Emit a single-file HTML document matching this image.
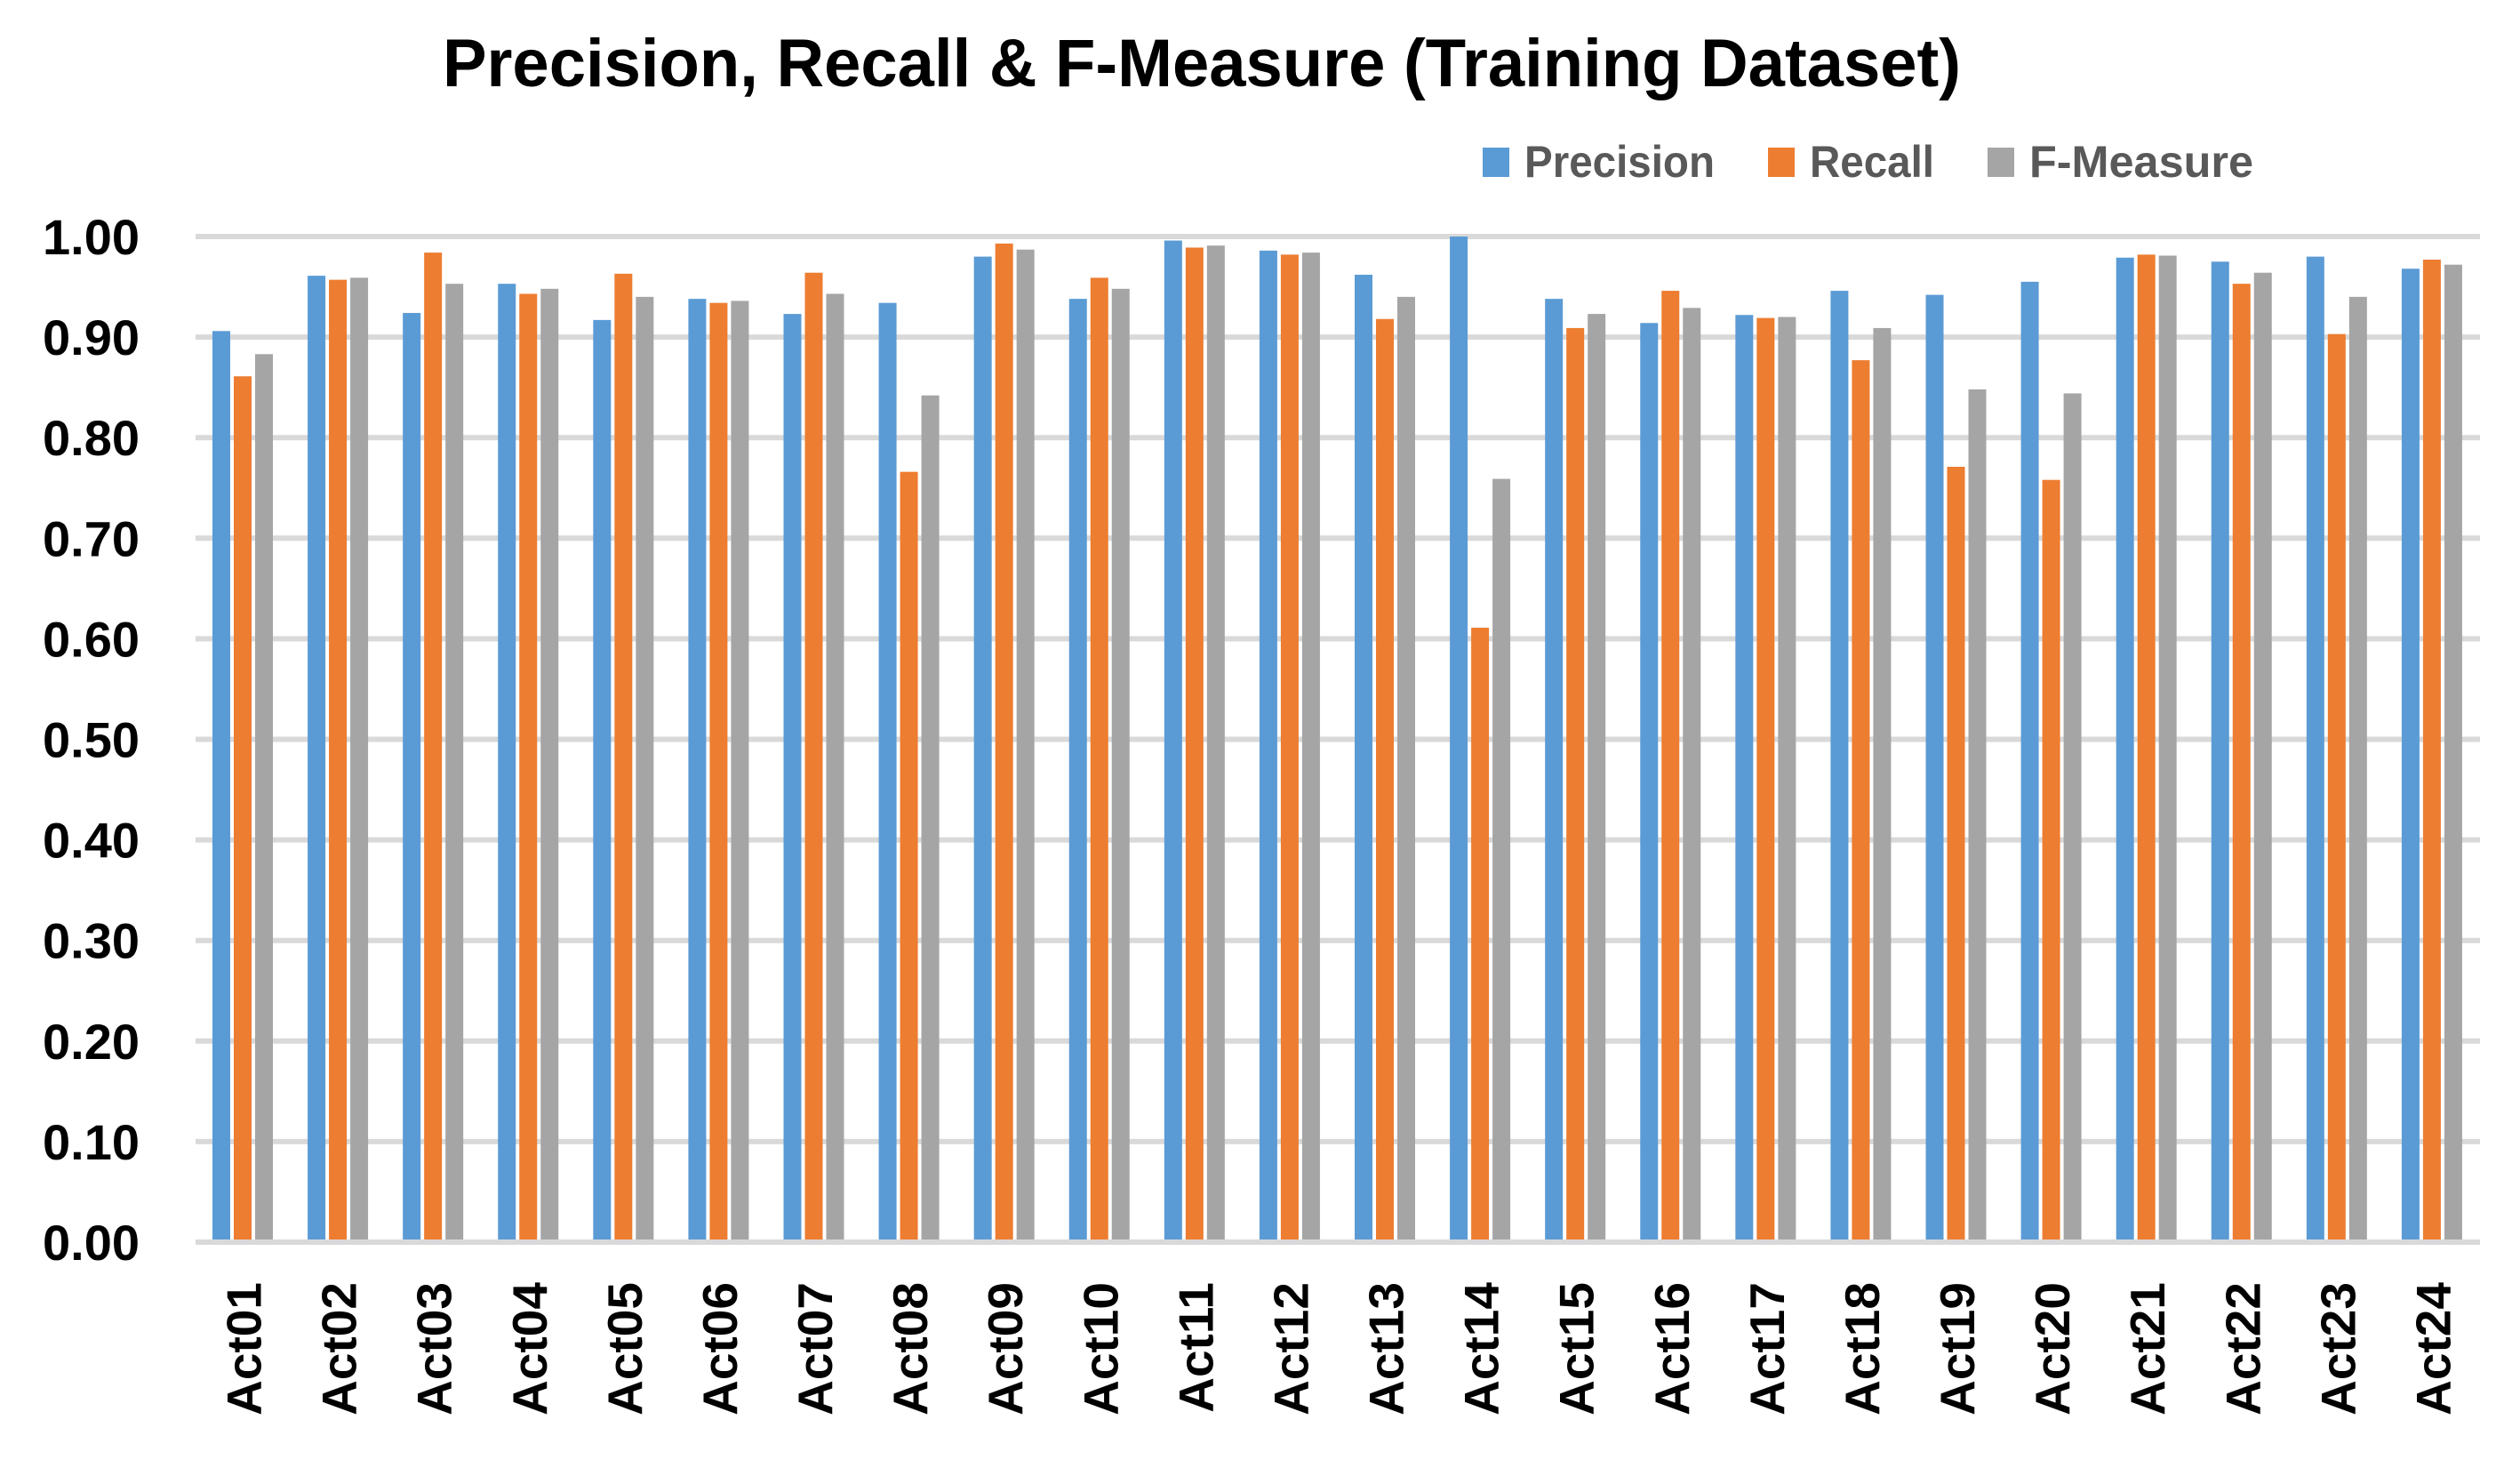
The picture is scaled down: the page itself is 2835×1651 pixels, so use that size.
<!DOCTYPE html>
<html><head><meta charset="utf-8"><style>
html,body{margin:0;padding:0;background:#fff;}
svg{display:block;font-family:"Liberation Sans",sans-serif;}
</style></head><body>
<svg id="chart" width="2835" height="1651" viewBox="0 0 2835 1651" xmlns="http://www.w3.org/2000/svg">
<rect x="0" y="0" width="2835" height="1651" fill="#fff"/>
<text x="1352" y="97" text-anchor="middle" font-size="76" font-weight="bold" fill="#000" textLength="1708" lengthAdjust="spacingAndGlyphs">Precision, Recall &amp; F-Measure (Training Dataset)</text>
<g>
<g><rect x="1668" y="166" width="30" height="33" fill="#5b9bd5"/><text x="1715" y="199" font-size="50" font-weight="bold" fill="#595959" textLength="214" lengthAdjust="spacingAndGlyphs">Precision</text></g>
<g><rect x="1989" y="166" width="30" height="33" fill="#ed7d31"/><text x="2036" y="199" font-size="50" font-weight="bold" fill="#595959" textLength="140" lengthAdjust="spacingAndGlyphs">Recall</text></g>
<g><rect x="2236" y="166" width="30" height="33" fill="#a5a5a5"/><text x="2283" y="199" font-size="50" font-weight="bold" fill="#595959" textLength="252" lengthAdjust="spacingAndGlyphs">F-Measure</text></g>
</g>
<g id="grid"></g>
<g id="yticks"></g>
<g id="bars"></g>
<g id="xlabels"></g>
</svg>
<script>
const categories = ["Act01","Act02","Act03","Act04","Act05","Act06","Act07","Act08","Act09","Act10","Act11","Act12","Act13","Act14","Act15","Act16","Act17","Act18","Act19","Act20","Act21","Act22","Act23","Act24"];
const precision = [0.906,0.961,0.924,0.953,0.917,0.938,0.923,0.934,0.980,0.938,0.996,0.986,0.962,1.000,0.938,0.914,0.922,0.946,0.942,0.955,0.979,0.975,0.980,0.968];
const recall = [0.861,0.957,0.984,0.943,0.963,0.934,0.964,0.766,0.993,0.959,0.989,0.982,0.918,0.611,0.909,0.946,0.919,0.877,0.771,0.758,0.982,0.953,0.903,0.977];
const fmeasure = [0.883,0.959,0.953,0.948,0.940,0.936,0.943,0.842,0.987,0.948,0.991,0.984,0.940,0.759,0.923,0.929,0.920,0.909,0.848,0.844,0.981,0.964,0.940,0.972];
const yTicks = [0,0.1,0.2,0.3,0.4,0.5,0.6,0.7,0.8,0.9,1.0];
const yTickLabels = ["0.00","0.10","0.20","0.30","0.40","0.50","0.60","0.70","0.80","0.90","1.00"];
const seriesNames = ["precision","recall","f-measure"];
const seriesColors = ["#5b9bd5","#ed7d31","#a5a5a5"];

const NS = "http://www.w3.org/2000/svg";
const plotL = 220, plotR = 2790, y0 = 1397, y1 = 266;
const catW = (plotR - plotL) / categories.length;
const barW = 20, barStep = 24, groupOff = 19;
function yScale(v){ return y0 - (v - 0) / (1 - 0) * (y0 - y1); }
function xCat(i){ return plotL + i * catW; }

const grid = document.getElementById('grid');
const yt = document.getElementById('yticks');
yTicks.forEach((t, i) => {
  const ln = document.createElementNS(NS, 'line');
  ln.setAttribute('x1', plotL); ln.setAttribute('x2', plotR);
  ln.setAttribute('y1', yScale(t)); ln.setAttribute('y2', yScale(t));
  ln.setAttribute('stroke', '#d9d9d9'); ln.setAttribute('stroke-width', '6');
  
  
  grid.appendChild(ln);
  const tx = document.createElementNS(NS, 'text');
  tx.setAttribute('x', 157); tx.setAttribute('y', yScale(t) + 20);
  tx.setAttribute('text-anchor', 'end'); tx.setAttribute('font-size', '56');
  tx.setAttribute('font-weight', 'bold'); tx.setAttribute('fill', '#000');
  tx.textContent = yTickLabels[i];
  
  
  yt.appendChild(tx);
});

const bars = document.getElementById('bars');
const series = [precision, recall, fmeasure];
categories.forEach((c, i) => {
  series.forEach((s, k) => {
    const r = document.createElementNS(NS, 'rect');
    const x = xCat(i) + groupOff + k * barStep;
    const top = yScale(s[i]);
    r.setAttribute('x', x); r.setAttribute('y', top);
    r.setAttribute('width', barW); r.setAttribute('height', y0 - 3 - top);
    r.setAttribute('fill', seriesColors[k]);
    
    
    bars.appendChild(r);
  });
});

const xl = document.getElementById('xlabels');
categories.forEach((c, i) => {
  const cx = xCat(i) + catW / 2 + 20;
  const t = document.createElementNS(NS, 'text');
  t.setAttribute('transform', 'translate(' + cx + ',1442) rotate(-90)');
  t.setAttribute('text-anchor', 'end'); t.setAttribute('font-size', '55');
  t.setAttribute('font-weight', 'bold'); t.setAttribute('fill', '#000');
  t.textContent = c;
  
  
  xl.appendChild(t);
});
</script>
</body></html>
